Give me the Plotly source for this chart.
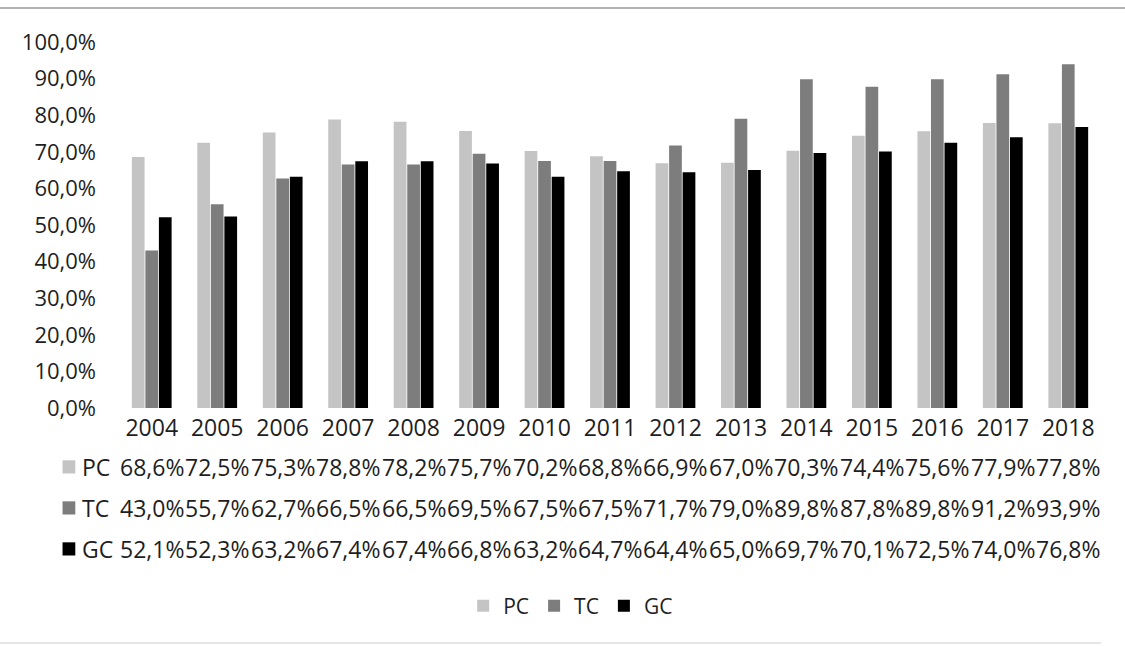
import plotly.graph_objects as go

years = ["2004", "2005", "2006", "2007", "2008", "2009", "2010", "2011",
         "2012", "2013", "2014", "2015", "2016", "2017", "2018"]
pc = [68.6, 72.5, 75.3, 78.8, 78.2, 75.7, 70.2, 68.8, 66.9, 67.0, 70.3, 74.4, 75.6, 77.9, 77.8]
tc = [43.0, 55.7, 62.7, 66.5, 66.5, 69.5, 67.5, 67.5, 71.7, 79.0, 89.8, 87.8, 89.8, 91.2, 93.9]
gc = [52.1, 52.3, 63.2, 67.4, 67.4, 66.8, 63.2, 64.7, 64.4, 65.0, 69.7, 70.1, 72.5, 74.0, 76.8]
series_names = ["PC", "TC", "GC"]
series_values = [pc, tc, gc]
colors = ["#c4c4c4", "#7d7d7d", "#000000"]

FONT = "Open Sans"
TXT = "#1e1e1e"

fig = go.Figure()
for name, vals, col in zip(series_names, series_values, colors):
    fig.add_trace(go.Bar(
        x=years, y=[v / 100 for v in vals], name=name,
        marker=dict(color=col, line=dict(width=0)),
    ))

# data table rows below the axis (x given as category index)
row_y = [-0.161, -0.273, -0.385]
annotations = []
shapes = []
for name, vals, col, ry in zip(series_names, series_values, colors, row_y):
    for i, v in enumerate(vals):
        annotations.append(dict(
            x=i, y=ry, xref="x", yref="paper",
            text=f"{v:.1f}%".replace(".", ","), showarrow=False,
            xanchor="center", yanchor="middle",
            font=dict(family=FONT, size=23, color=TXT),
        ))
    annotations.append(dict(
        x=-0.040, y=ry, xref="paper", yref="paper", text=name,
        showarrow=False, xanchor="left", yanchor="middle",
        font=dict(family=FONT, size=23, color=TXT),
    ))
    shapes.append(dict(
        type="rect", xref="paper", yref="paper",
        x0=-0.0575, x1=-0.0445, y0=ry - 0.018, y1=ry + 0.018,
        fillcolor=col, line=dict(width=0),
    ))

# frame lines at top and bottom of the image
shapes.append(dict(type="line", xref="paper", yref="paper",
                   x0=-0.125, x1=1.03, y0=1.093, y1=1.093,
                   line=dict(color="#b4b4b4", width=2)))
shapes.append(dict(type="line", xref="paper", yref="paper",
                   x0=-0.125, x1=1.0, y0=-0.642, y1=-0.642,
                   line=dict(color="#e6e6e6", width=2)))

fig.update_layout(
    width=1125, height=646,
    margin=dict(l=119, r=24, t=42, b=238),
    paper_bgcolor="white", plot_bgcolor="white",
    separators=",.",
    barmode="group", bargap=0.38, bargroupgap=0.06,
    font=dict(family=FONT, size=22, color=TXT),
    xaxis=dict(type="category", range=[-0.5, len(years) - 0.5],
               showgrid=False, showline=False, ticks="",
               ticklabelstandoff=4,
               tickfont=dict(family=FONT, size=23, color=TXT)),
    yaxis=dict(range=[0, 1], dtick=0.1, tick0=0, tickformat=".1%",
               showgrid=False, showline=False, zeroline=False, ticks="",
               ticklabelstandoff=22,
               tickfont=dict(family=FONT, size=22, color=TXT)),
    legend=dict(orientation="h", x=0.46, xanchor="center", y=-0.541,
                yanchor="middle", font=dict(family=FONT, size=21, color=TXT),
                itemwidth=30, tracegroupgap=0),
    annotations=annotations,
    shapes=shapes,
    showlegend=True,
)

fig.write_html("out.html", config={"displayModeBar": False},
               post_script="document.body.style.margin='0';document.body.style.overflow='hidden';")
